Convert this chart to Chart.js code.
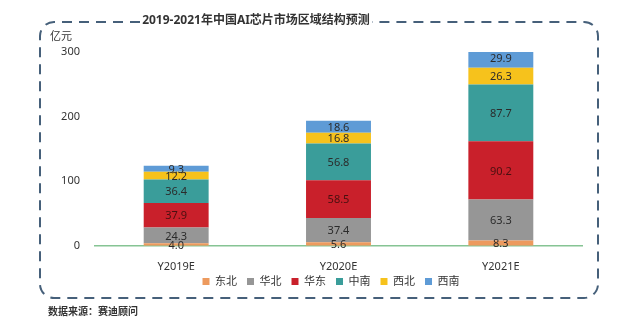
<!DOCTYPE html>
<html>
<head>
<meta charset="utf-8">
<script src="https://cdn.jsdelivr.net/npm/chart.js@4/dist/chart.umd.min.js"></script>
<style>
  html, body { margin: 0; padding: 0; background: #fff; }
  #wrap { width: 630px; height: 335px; position: relative; }
</style>
</head>
<body>
<div id="wrap"><canvas id="chart"></canvas></div>
<script>
const FONT = '"Noto Sans", "Noto Sans CJK SC", sans-serif';

// data
const years = ['Y2019E', 'Y2020E', 'Y2021E'];
const regions = ['东北', '华北', '华东', '中南', '西北', '西南'];
const dongbei = [4.0, 5.6, 8.3];
const huabei = [24.3, 37.4, 63.3];
const huadong = [37.9, 58.5, 90.2];
const zhongnan = [36.4, 56.8, 87.7];
const xibei = [12.2, 16.8, 26.3];
const xinan = [9.3, 18.6, 29.9];
const yTicks = [0, 100, 200, 300];

const colors = ['#ED9A5E', '#969696', '#C9202B', '#3A9D9A', '#F6C21C', '#5E9BD6'];
const series = [dongbei, huabei, huadong, zhongnan, xibei, xinan];

// dashed frame + title + unit + source
const framePlugin = {
  id: 'frame',
  afterLayout(chart) {
    // legend sits closer to the axis labels than chart.js would put it
    const lg = chart.legend;
    const h = lg.height, w = lg.width;
    lg.top = 266; lg.bottom = lg.top + h;
    lg.left = 40; lg.right = lg.left + w;
  },
  beforeDraw(chart) {
    const ctx = chart.ctx;
    ctx.save();
    ctx.strokeStyle = '#46607A';
    ctx.lineWidth = 2;
    ctx.setLineDash([10, 7]);
    const l = 40, t = 22, r = 598, b = 298, rad = 14;
    ctx.beginPath();
    ctx.moveTo(140, t);
    ctx.lineTo(l + rad, t);
    ctx.arcTo(l, t, l, t + rad, rad);
    ctx.lineTo(l, b - rad);
    ctx.arcTo(l, b, l + rad, b, rad);
    ctx.lineTo(r - rad, b);
    ctx.arcTo(r, b, r, b - rad, rad);
    ctx.lineTo(r, t + rad);
    ctx.arcTo(r, t, r - rad, t, rad);
    ctx.lineTo(372, t);
    ctx.stroke();
    ctx.setLineDash([]);

    ctx.fillStyle = '#333';
    ctx.textBaseline = 'middle';
    ctx.textAlign = 'center';
    ctx.font = 'bold 12px ' + FONT;
    ctx.fillText('2019-2021年中国AI芯片市场区域结构预测', 256, 21);

    ctx.textAlign = 'left';
    ctx.font = '11px ' + FONT;
    ctx.fillText('亿元', 50, 37);

    ctx.font = 'bold 10px ' + FONT;
    ctx.fillText('数据来源：赛迪顾问', 48, 312);
    ctx.restore();
  }
};

// value labels in the middle of each segment
const labelPlugin = {
  id: 'segLabels',
  afterDatasetsDraw(chart) {
    const ctx = chart.ctx;
    ctx.save();
    ctx.font = '11px ' + FONT;
    ctx.textAlign = 'center';
    ctx.textBaseline = 'middle';
    chart.data.datasets.forEach((ds, i) => {
      const meta = chart.getDatasetMeta(i);
      meta.data.forEach((bar, j) => {
        const mid = (bar.y + bar.base) / 2;
        ctx.fillStyle = i === 2 ? '#4a1010' : '#2b2b2b';
        ctx.fillText(ds.data[j].toFixed(1), bar.x, mid + 1);
      });
    });
    ctx.restore();
  }
};

new Chart(document.getElementById('chart'), {
  type: 'bar',
  data: {
    labels: years,
    datasets: regions.map((name, i) => ({
      label: name,
      data: series[i],
      backgroundColor: colors[i],
      borderWidth: 0,
      categoryPercentage: 0.8,
      barPercentage: 0.5
    }))
  },
  options: {
    responsive: true,
    maintainAspectRatio: false,
    animation: false,
    layout: { padding: { top: 52, right: 48, bottom: 25, left: 0 } },
    plugins: {
      title: { display: false },
      tooltip: { enabled: false },
      legend: {
        position: 'bottom',
        labels: {
          boxWidth: 7,
          boxHeight: 7,
          padding: 10,
          color: '#333',
          font: { family: FONT, size: 11 }
        }
      }
    },
    scales: {
      x: {
        stacked: true,
        grid: { display: false },
        border: { display: true, color: '#86C494', width: 1.5 },
        ticks: { color: '#333', padding: 6, font: { family: FONT, size: 11 } }
      },
      y: {
        stacked: true,
        min: 0,
        max: 300,
        afterFit(scale) { scale.width = 95; },
        afterBuildTicks(scale) { scale.ticks = yTicks.map(v => ({ value: v })); },
        grid: { display: false, drawTicks: false },
        border: { display: false },
        ticks: { color: '#333', padding: 15, font: { family: FONT, size: 11 } }
      }
    }
  },
  plugins: [framePlugin, labelPlugin]
});
</script>
</body>
</html>
